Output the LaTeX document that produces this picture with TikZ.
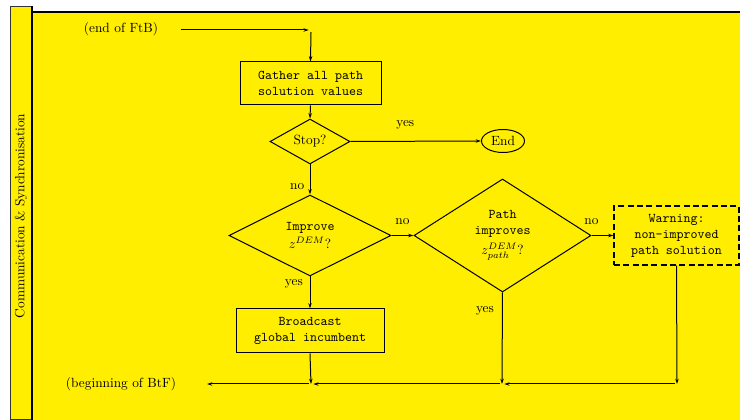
\documentclass[tikz,border=0pt]{standalone}
\usetikzlibrary{shapes.geometric,arrows.meta}
\definecolor{bgyellow}{RGB}{255,238,0}
\begin{document}
\begin{tikzpicture}[x=0.75pt,y=-0.75pt,
  line width=0.75pt,
  arr/.style={-{Stealth[length=4pt,width=2.6pt]}},
  procbox/.style={draw,rectangle,font=\ttfamily,align=center,inner sep=0pt},
  decbox/.style={draw,diamond,align=center,inner sep=0pt},
  warnbox/.style={draw,rectangle,font=\ttfamily,align=center,inner sep=0pt,line width=0.9pt,dash pattern=on 4.5pt off 2.5pt},
  endbox/.style={draw,ellipse,inner sep=0pt,minimum width=32.25pt,minimum height=17.25pt},
  junc/.style={inner sep=1.3pt},
  lbl/.style={inner sep=0pt}
]
\useasboundingbox (0,0) rectangle (740,420);
% background
\fill[bgyellow] (32,12) rectangle (740,420);
\draw[line width=0.9pt] (32,420) -- (32,12) -- (740,12);
\fill[bgyellow] (10,6) rectangle (32,419);
\draw[line width=0.5pt,black!80] (32,6) -- (10,6) -- (10,419) -- (32,419);
\draw[line width=1.4pt] (32,6) -- (32,420);
\node[rotate=90,lbl] (strip) at (21,216) {Communication \& Synchronisation};

% nodes
\node[lbl] (ftb) at (121,29) {(end of FtB)};
\coordinate (ftbout) at (181,30);
\node[junc] (j0) at (311,30) {};
\node[procbox,minimum width=105.75pt,minimum height=32.25pt] (gather) at (310.5,83.5) {Gather all path\\solution values};
\node[decbox,minimum width=60pt,minimum height=27.75pt] (stop) at (310,141.5) {Stop?};
\node[endbox] (end) at (503,141) {End};
\node[decbox,minimum width=121.5pt,minimum height=60.75pt] (improve) at (310,235.5) {\texttt{Improve}\\[1pt]$z^{DEM}$?};
\node[decbox,minimum width=132.75pt,minimum height=84.75pt] (path) at (502.5,235.5) {\texttt{Path}\\\texttt{improves}\\[3pt]$z^{DEM}_{path}$?};
\node[warnbox,minimum width=93.75pt,minimum height=44.25pt] (warn) at (676.5,235.5) {Warning:\\non-improved\\path solution};
\node[procbox,minimum width=111pt,minimum height=33pt] (bcast) at (310,331) {Broadcast\\global incumbent};
\node[junc] (jb1) at (311,384) {};
\node[junc] (jb2) at (502,384) {};
\node[junc] (jb3) at (677,384) {};
\node[lbl] (btf) at (121,384) {(beginning of BtF)};
\coordinate (btfin) at (207,384);

% connectors
\draw[arr] (ftbout) -- (j0.west);
\draw[arr] (j0.south) -- (gather.north);
\draw[arr] (gather.south) -- (stop.north);
\draw[arr] (stop.east) -- node[lbl,above=9pt,pos=0.42] (ly1) {yes} (end.west);
\draw[arr] (stop.south) -- node[lbl,left=4pt,pos=0.75] (ln1) {no} (improve.north);
\draw[arr] (improve.east) -- node[lbl,above=8pt] (ln2) {no} (path.west);
\draw[arr] (path.east) -- node[lbl,above=8pt,pos=0.0] (ln3) {no} (warn.west);
\draw[arr] (improve.south) -- node[lbl,left=5pt,pos=0.22] (ly2) {yes} (bcast.north);
\draw[arr] (bcast.south) -- (jb1.center);
\draw[arr] (path.south) -- node[lbl,left=6pt,pos=0.2] (ly3) {yes} (jb2.center);
\draw[arr] (warn.south) -- (jb3.center);
\draw[arr] (jb3.west) -- (jb2.east);
\draw[arr] (jb2.west) -- (jb1.east);
\draw[arr] (jb1.west) -- (btfin);
\end{tikzpicture}
\end{document}
